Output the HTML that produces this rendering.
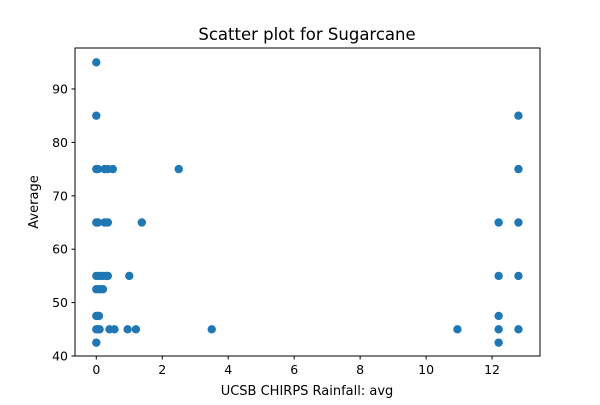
<!DOCTYPE html>
<html><head><meta charset="utf-8"><style>
body{margin:0;background:#fff}
svg text{font-family:"DejaVu Sans","Liberation Sans",sans-serif;fill:#000}
</style></head><body>
<svg width="600" height="400">
<rect width="600" height="400" fill="#fff"/>
<g id="pts"></g>
<rect x="75" y="48" width="465" height="308" fill="none" stroke="#000" stroke-width="1"/>
<g id="ax"></g>
<text x="307" y="40" font-size="16.5" text-anchor="middle">Scatter plot for Sugarcane</text>
<text x="307" y="395" font-size="13" text-anchor="middle">UCSB CHIRPS Rainfall: avg</text>
<text transform="translate(38,202) rotate(-90)" font-size="13" text-anchor="middle">Average</text>
</svg>
<script>
const xVals=[0,0,0,0,0,0,0,0,0, 0.05,0.25,0.35,0.5,2.5, 0.05,0.25,0.35,1.38, 0.1,0.2,0.3,0.35,1.0, 0.1,0.2, 0.05,0.08, 0.05,0.1,0.4,0.55,0.95,1.2,3.5, 12.2,12.2,12.2,12.2,12.2, 12.8,12.8,12.8,12.8,12.8, 10.95];
const yVals=[95,85,75,65,55,52.5,47.5,45,42.5, 75,75,75,75,75, 65,65,65,65, 55,55,55,55,55, 52.5,52.5, 47.5,47.5, 45,45,45,45,45,45,45, 65,55,47.5,45,42.5, 85,75,65,55,45, 45];
const xTicks=[0,2,4,6,8,10,12];
const yTicks=[40,50,60,70,80,90];
const X=v=>96.3+(v)*32.98, Y=v=>356-(v-40)*5.34;
const ns="http://www.w3.org/2000/svg";
const pts=document.getElementById('pts'), ax=document.getElementById('ax');
xVals.forEach((x,i)=>{const c=document.createElementNS(ns,'circle');
c.setAttribute('cx',X(x));c.setAttribute('cy',Y(yVals[i]));c.setAttribute('r',4.2);c.setAttribute('fill','#1f77b4');


pts.appendChild(c);});
xTicks.forEach(t=>{const l=document.createElementNS(ns,'line');const x=X(t);
l.setAttribute('x1',x);l.setAttribute('x2',x);l.setAttribute('y1',356);l.setAttribute('y2',359.5);l.setAttribute('stroke','#000');


ax.appendChild(l);
const tx=document.createElementNS(ns,'text');tx.setAttribute('x',x);tx.setAttribute('y',374);tx.setAttribute('font-size','12.5');tx.setAttribute('text-anchor','middle');tx.textContent=t;


ax.appendChild(tx);});
yTicks.forEach(t=>{const l=document.createElementNS(ns,'line');const y=Y(t);
l.setAttribute('x1',71.5);l.setAttribute('x2',75);l.setAttribute('y1',y);l.setAttribute('y2',y);l.setAttribute('stroke','#000');


ax.appendChild(l);
const tx=document.createElementNS(ns,'text');tx.setAttribute('x',68);tx.setAttribute('y',y+4.5);tx.setAttribute('font-size','12.5');tx.setAttribute('text-anchor','end');tx.textContent=t;


ax.appendChild(tx);});
</script>
</body></html>
